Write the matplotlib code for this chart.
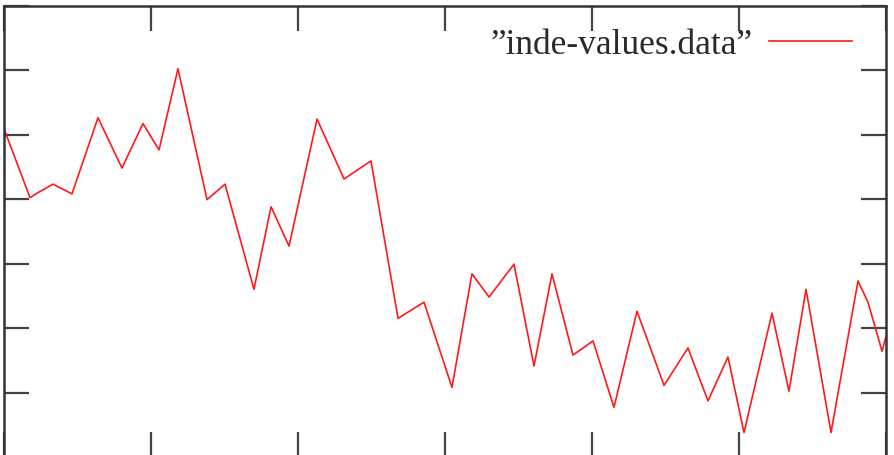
import matplotlib
matplotlib.use("Agg")
import matplotlib.pyplot as plt

# values (x: 0-120, y: 0-7)
xs = [0, 3.54, 4.49, 6.67, 9.25, 12.79, 16.05, 18.91, 21.09, 23.67,
      27.62, 30.07, 34.01, 36.33, 38.78, 42.59, 46.26, 49.93, 53.61, 57.14,
      60.95, 63.67, 65.99, 69.39, 72.11, 74.56, 77.41, 80.14, 82.99, 86.12,
      89.80, 93.06, 95.78, 98.50, 100.68, 104.49, 106.80, 109.12, 112.52, 116.19,
      117.55, 119.46, 120]
ys = [5.09, 4.02, 4.09, 4.23, 4.08, 5.26, 4.48, 5.17, 4.76, 6.02,
      3.99, 4.23, 2.60, 3.88, 3.27, 5.24, 4.31, 4.59, 2.15, 2.40,
      1.08, 2.84, 2.48, 2.99, 1.41, 2.84, 1.58, 1.80, 0.77, 2.26,
      1.11, 1.69, 0.87, 1.55, 0.38, 2.23, 1.02, 2.60, 0.38, 2.73,
      2.40, 1.64, 1.87]
label = "\u201dinde-values.data\u201d"
xticks = [0, 20, 40, 60, 80, 100, 120]
yticks = [0, 1, 2, 3, 4, 5, 6, 7]

W, H = 894, 456
fig = plt.figure(figsize=(W / 100, H / 100), dpi=100)
# frame bottom edge lies just below the picture
ax = fig.add_axes([4 / W, (H - 458) / H, 882 / W, 451.5 / H])

ax.plot(xs, ys, color="#ff1a1a", lw=1.2, label=label)

ax.set_xlim(0, 120)
ax.set_ylim(0, 7)
ax.set_xticks(xticks)
ax.set_yticks(yticks)
ax.tick_params(direction="in", length=18, width=1.6, color="#444444",
               top=True, right=True, labelleft=False, labelbottom=False)
for s in ax.spines.values():
    s.set_linewidth(1.8)
    s.set_color("#333333")

leg = ax.legend(loc="center right", bbox_to_anchor=(852 / W, 1 - 45.5 / H),
                bbox_transform=fig.transFigure, frameon=False, markerfirst=False,
                borderpad=0, borderaxespad=0, handlelength=2.33, handletextpad=0.47,
                prop={"family": "Liberation Serif", "size": 25.5})
for t in leg.get_texts():
    t.set_color("#2a2a2a")

fig.savefig("out.png", dpi=100)
